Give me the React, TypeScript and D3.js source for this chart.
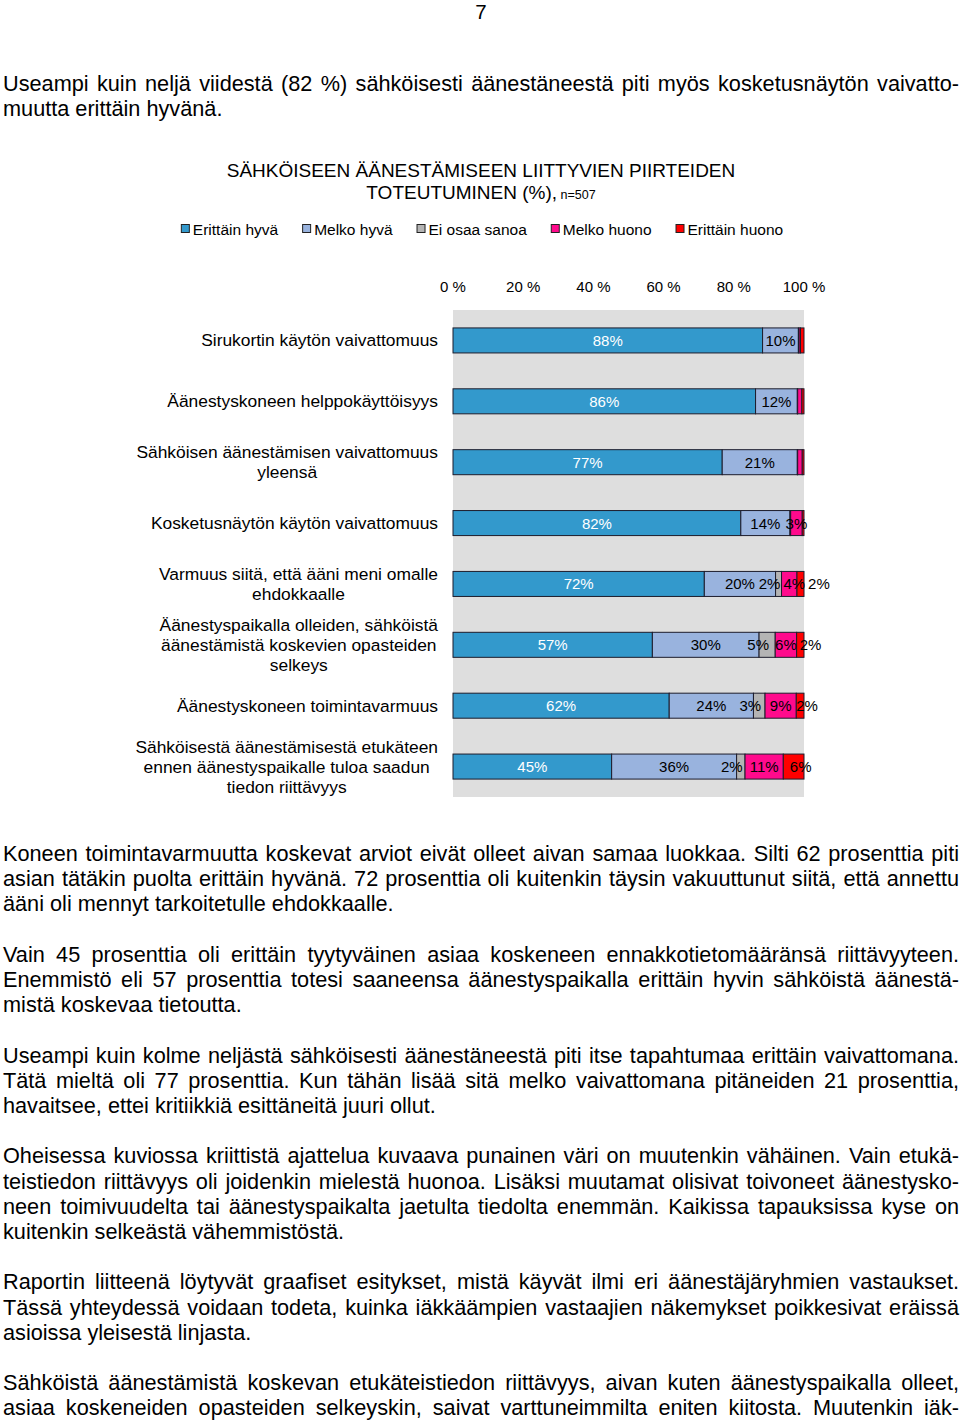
import React from "react";
import * as d3 from "d3";

// ---------- data ----------
const categoryLines: string[][] = [
  ["Sirukortin käytön vaivattomuus"],
  ["Äänestyskoneen helppokäyttöisyys"],
  ["Sähköisen äänestämisen vaivattomuus", "yleensä"],
  ["Kosketusnäytön käytön vaivattomuus"],
  ["Varmuus siitä, että ääni meni omalle", "ehdokkaalle"],
  ["Äänestyspaikalla olleiden, sähköistä", "äänestämistä koskevien opasteiden", "selkeys"],
  ["Äänestyskoneen toimintavarmuus"],
  ["Sähköisestä äänestämisestä etukäteen", "ennen äänestyspaikalle tuloa saadun", "tiedon riittävyys"],
];
const seriesNames = ["Erittäin hyvä", "Melko hyvä", "Ei osaa sanoa", "Melko huono", "Erittäin huono"];
const erittainHyva = [88.2, 86.2, 76.7, 82.0, 71.6, 56.8, 61.6, 45.2];
const melkoHyva = [10.2, 11.9, 21.4, 14.0, 20.3, 30.4, 24.0, 35.6];
const eiOsaaSanoa = [0.2, 0.1, 0.1, 0.2, 1.7, 4.6, 3.3, 2.4];
const melkoHuono = [0.4, 1.2, 1.3, 3.3, 4.4, 6.1, 8.9, 10.9];
const erittainHuono = [1.0, 0.6, 0.5, 0.5, 2.0, 2.1, 2.2, 5.9];
const tickValues = [0, 20, 40, 60, 80, 100];
const colors = ["#3399cc", "#99b3de", "#b4b4b4", "#ff0a8c", "#ff0000"];

const pageNumber = "7";
const introLines = [
  "Useampi kuin neljä viidestä (82 %) sähköisesti äänestäneestä piti myös kosketusnäytön vaivatto-",
  "muutta erittäin hyvänä.",
];
const titleLine1 = "SÄHKÖISEEN ÄÄNESTÄMISEEN LIITTYVIEN PIIRTEIDEN";
const titleLine2 = "TOTEUTUMINEN (%),";
const titleN = "n=507";
const bodyParagraphs: string[][] = [
  [
    "Koneen toimintavarmuutta koskevat arviot eivät olleet aivan samaa luokkaa. Silti 62 prosenttia piti",
    "asian tätäkin puolta erittäin hyvänä. 72 prosenttia oli kuitenkin täysin vakuuttunut siitä, että annettu",
    "ääni oli mennyt tarkoitetulle ehdokkaalle.",
  ],
  [
    "Vain 45 prosenttia oli erittäin tyytyväinen asiaa koskeneen ennakkotietomääränsä riittävyyteen.",
    "Enemmistö eli 57 prosenttia totesi saaneensa äänestyspaikalla erittäin hyvin sähköistä äänestä-",
    "mistä koskevaa tietoutta.",
  ],
  [
    "Useampi kuin kolme neljästä sähköisesti äänestäneestä piti itse tapahtumaa erittäin vaivattomana.",
    "Tätä mieltä oli 77 prosenttia. Kun tähän lisää sitä melko vaivattomana pitäneiden 21 prosenttia,",
    "havaitsee, ettei kritiikkiä esittäneitä juuri ollut.",
  ],
  [
    "Oheisessa kuviossa kriittistä ajattelua kuvaava punainen väri on muutenkin vähäinen. Vain etukä-",
    "teistiedon riittävyys oli joidenkin mielestä huonoa. Lisäksi muutamat olisivat toivoneet äänestysko-",
    "neen toimivuudelta tai äänestyspaikalta jaetulta tiedolta enemmän. Kaikissa tapauksissa kyse on",
    "kuitenkin selkeästä vähemmistöstä.",
  ],
  [
    "Raportin liitteenä löytyvät graafiset esitykset, mistä käyvät ilmi eri äänestäjäryhmien vastaukset.",
    "Tässä yhteydessä voidaan todeta, kuinka iäkkäämpien vastaajien näkemykset poikkesivat eräissä",
    "asioissa yleisestä linjasta.",
  ],
  [
    "Sähköistä äänestämistä koskevan etukäteistiedon riittävyys, aivan kuten äänestyspaikalla olleet,",
    "asiaa koskeneiden opasteiden selkeyskin, saivat varttuneimmilta eniten kiitosta. Muutenkin iäk-",
  ],
];

// ---------- layout ----------
const W = 960;
const H = 1423;
const FONT = "'Liberation Sans', Arial, Helvetica, sans-serif";
const BODY_SIZE = 21.7;
const TEXT_LEFT = 3;
const TEXT_RIGHT = 959;
const LINE_H = 25.2;

let ctx: CanvasRenderingContext2D | null = null;
function measure(text: string, size: number): number {
  if (!ctx) {
    const c = document.createElement("canvas");
    ctx = c.getContext("2d");
  }
  if (!ctx) return text.length * size * 0.5;
  ctx.font = `${size}px ${FONT}`;
  return ctx.measureText(text).width;
}

function BodyLine({ text, y, justify }: { text: string; y: number; justify: boolean }) {
  if (!justify) {
    return (
      <text x={TEXT_LEFT} y={y} fontSize={BODY_SIZE} fontFamily={FONT} fill="#000">
        {text}
      </text>
    );
  }
  const words = text.split(" ");
  const widths = words.map((w) => measure(w, BODY_SIZE));
  const sum = d3.sum(widths);
  const target = TEXT_RIGHT - TEXT_LEFT;
  const gap = (target - sum) / Math.max(1, words.length - 1);
  const spaceW = measure(" ", BODY_SIZE);
  if (gap < spaceW * 0.6) {
    return (
      <text x={TEXT_LEFT} y={y} fontSize={BODY_SIZE} fontFamily={FONT} fill="#000"
        textLength={target} lengthAdjust="spacingAndGlyphs">
        {text}
      </text>
    );
  }
  let x = TEXT_LEFT;
  const xs: number[] = [];
  widths.forEach((w) => {
    xs.push(x);
    x += w + gap;
  });
  return (
    <text y={y} fontSize={BODY_SIZE} fontFamily={FONT} fill="#000">
      {words.map((w, i) => (
        <tspan key={i} x={xs[i]}>
          {w}
        </tspan>
      ))}
    </text>
  );
}

export default function App() {
  React.useEffect(() => {
    document.body.style.margin = "0";
  }, []);

  const n = categoryLines.length;
  const idx = d3.range(n).map(String);
  const x = d3.scaleLinear().domain([0, 100]).range([453, 804]);
  const y = d3.scaleBand<string>().domain(idx).range([310, 797]).paddingInner(0.589).paddingOuter(0.2945);

  const table = d3.range(n).map((i) => ({
    i: String(i),
    s0: erittainHyva[i],
    s1: melkoHyva[i],
    s2: eiOsaaSanoa[i],
    s3: melkoHuono[i],
    s4: erittainHuono[i],
  }));
  const keys = ["s0", "s1", "s2", "s3", "s4"];
  const stacked = d3.stack<any>().keys(keys)(table);

  // labels
  const LABEL_SIZE = 15;
  type Lab = { x: number; y: number; text: string; color: string; w: number };
  const labels: Lab[] = [];
  for (let r = 0; r < n; r++) {
    const rowLabs: Lab[] = [];
    stacked.forEach((layer, si) => {
      const d = layer[r];
      const v = d[1] - d[0];
      const rounded = Math.round(v);
      if (rounded < 2) return;
      const text = `${rounded}%`;
      const w = measure(text, LABEL_SIZE);
      let cx = (x(d[0]) + x(d[1])) / 2;
      if (si === 2) cx -= 9;
      if (si === 4) cx += 7;
      rowLabs.push({
        x: cx,
        y: (y(String(r)) as number) + y.bandwidth() / 2 + 5.5,
        text,
        color: si === 0 ? "#ffffff" : "#000000",
        w,
      });
    });
    for (let k = 1; k < rowLabs.length; k++) {
      const prev = rowLabs[k - 1];
      const cur = rowLabs[k];
      const prevRight = prev.x + prev.w / 2;
      const curLeft = cur.x - cur.w / 2;
      if (curLeft < prevRight + 3) cur.x = prevRight + 3 + cur.w / 2;
    }
    labels.push(...rowLabs);
  }

  // legend
  const LEG_SIZE = 15.5;
  const legItems = seriesNames.map((s) => ({ s, w: measure(s, LEG_SIZE) }));
  const legGap = 24;
  const legTotal = d3.sum(legItems, (d) => 12 + d.w) + legGap * (legItems.length - 1);
  let lx = 482 - legTotal / 2;
  const legPos = legItems.map((d) => {
    const p = lx;
    lx += 12 + d.w + legGap;
    return p;
  });

  // category labels
  const CAT_SIZE = 17.4;
  const CAT_RIGHT = 438;
  const CAT_LH = 20;

  // body lines
  const bodyRendered: JSX.Element[] = [];
  let lineNo = 0;
  bodyParagraphs.forEach((para, pi) => {
    para.forEach((line, li) => {
      const isLast = li === para.length - 1 && pi !== bodyParagraphs.length - 1;
      bodyRendered.push(
        <BodyLine key={`b${pi}-${li}`} text={line} y={861 + lineNo * LINE_H} justify={!isLast} />
      );
      lineNo++;
    });
    lineNo++;
  });

  const titleW1 = measure(titleLine2, 19);
  const titleWn = measure(" " + titleN, 12.5);
  const title2Start = 481 - (titleW1 + titleWn) / 2;

  return (
    <svg width={W} height={H} style={{ position: "absolute", left: 0, top: 0, background: "#fff" }}
      fontFamily={FONT}>
      <rect x={0} y={0} width={W} height={H} fill="#ffffff" />
      <text x={481} y={19} textAnchor="middle" fontSize={20.5} fill="#000">{pageNumber}</text>
      {introLines.map((l, i) => (
        <BodyLine key={`i${i}`} text={l} y={91 + i * LINE_H} justify={i < introLines.length - 1} />
      ))}

      {/* title */}
      <text x={481} y={177} textAnchor="middle" fontSize={19} fill="#000">{titleLine1}</text>
      <text x={title2Start} y={199} fontSize={19} fill="#000">
        {titleLine2}
        <tspan fontSize={12.5}>{" " + titleN}</tspan>
      </text>

      {/* legend */}
      {legItems.map((d, i) => (
        <g key={d.s}>
          <rect x={legPos[i] + 0.5} y={224.5} width={8} height={8} fill={colors[i]} stroke="#222" strokeWidth={1} />
          <text x={legPos[i] + 12} y={234.5} fontSize={LEG_SIZE} fill="#000">{d.s}</text>
        </g>
      ))}

      {/* axis ticks */}
      {tickValues.map((t) => (
        <text key={t} x={x(t)} y={292} textAnchor="middle" fontSize={15} fill="#000">{`${t} %`}</text>
      ))}

      {/* plot background */}
      <rect x={x(0)} y={310} width={x(100) - x(0)} height={797 - 310} fill="#dedede" />

      {/* bars */}
      {stacked.map((layer, si) => (
        <g key={si}>
          {layer.map((d, r) => {
            const wdt = x(d[1]) - x(d[0]);
            if (wdt <= 0) return null;
            return (
              <rect key={r} x={x(d[0])} y={y(String(r))} width={wdt} height={y.bandwidth()}
                fill={colors[si]} stroke="#1c1c2c" strokeWidth={1} />
            );
          })}
        </g>
      ))}

      {/* bar labels */}
      {labels.map((l, i) => (
        <text key={i} x={l.x} y={l.y} textAnchor="middle" fontSize={LABEL_SIZE} fill={l.color}>{l.text}</text>
      ))}

      {/* category labels */}
      {categoryLines.map((lines, r) => {
        const maxW = d3.max(lines, (l) => measure(l, CAT_SIZE)) || 0;
        const cx = CAT_RIGHT - maxW / 2;
        const cy = (y(String(r)) as number) + y.bandwidth() / 2;
        const y0 = cy - ((lines.length - 1) * CAT_LH) / 2 + 6;
        return (
          <text key={r} fontSize={CAT_SIZE} fill="#000" textAnchor="middle">
            {lines.map((l, li) => (
              <tspan key={li} x={cx} y={y0 + li * CAT_LH}>{l}</tspan>
            ))}
          </text>
        );
      })}

      {bodyRendered}
    </svg>
  );
}
